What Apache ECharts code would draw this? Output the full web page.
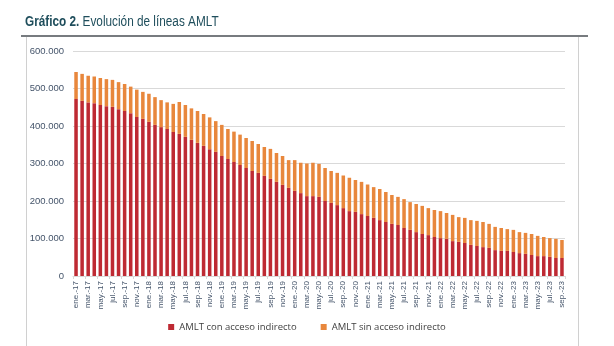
<!DOCTYPE html>
<html><head><meta charset="utf-8">
<script src="https://cdn.jsdelivr.net/npm/echarts@6/dist/echarts.min.js"></script>
<style>html,body{margin:0;padding:0;background:#fff}#c{width:614px;height:346px}</style>
</head><body><div id="c"></div>
<script>
const months = ['ene.','feb.','mar.','abr.','may.','jun.','jul.','ago.','sep.','oct.','nov.','dic.'];
const categories = [];
for (let y = 17; y <= 23; y++) for (let m = 0; m < 12; m++) { if (y === 23 && m > 8) break; categories.push(months[m] + '-' + y); }

const conAcceso = [472,467,463,461,456,453,451,445,440,434,424,419,411,403,397,392,384,379,371,363,355,347,338,331,320,312,304,296,288,280,275,267,259,251,243,235,227,221,213,213,211,200,195,189,181,173,171,165,160,155,149,144,139,136,128,123,117,112,109,104,101,99,93,91,88,83,80,77,75,69,67,67,64,61,59,56,53,53,51,48,48].map(v=>v*1000);
const total = [544,539,534,532,528,525,523,517,512,505,497,491,486,477,469,463,459,464,456,447,440,432,423,413,403,392,385,377,368,360,352,344,339,328,320,309,309,302,300,302,299,288,280,275,268,262,256,251,244,237,232,224,216,211,205,197,192,187,181,176,173,168,163,157,155,149,147,144,139,131,128,125,123,117,115,112,107,104,101,99,96].map(v=>v*1000);
const sinAcceso = total.map((t,i)=>t-conAcceso[i]);

const chart = echarts.init(document.getElementById('c'), null, {renderer:'canvas'});
chart.setOption({
  animation:false,
  graphic:[
    {type:'text', left:25, top:14, scaleX:0.76, originX:25,
      style:{ text:'{b|Gráfico 2.} Evolución de líneas AMLT', fill:'#1f4e5c',
        font:'15.5px "Liberation Sans", Arial',
        rich:{ b:{ fontFamily:'Liberation Sans, Arial', fontSize:15.5, fontWeight:'bold', fill:'#1f4e5c' } } } },
    {type:'line', shape:{x1:21,y1:36,x2:588,y2:36}, style:{stroke:'#4a4f55', lineWidth:1.5}},
    {type:'line', shape:{x1:26.5,y1:37,x2:26.5,y2:346}, style:{stroke:'#d0d0d0', lineWidth:1}},
    {type:'line', shape:{x1:578.5,y1:37,x2:578.5,y2:346}, style:{stroke:'#d0d0d0', lineWidth:1}}
  ],
  grid:{ left:73, right:49, top:51, bottom:70, containLabel:false },
  legend:{ bottom:9, left:'center', itemWidth:6, itemHeight:6, itemGap:24, icon:'rect',
    textStyle:{ fontFamily:'Open Sans, Liberation Sans', fontSize:9.5, color:'#404040' } },
  xAxis:{ type:'category', data:categories,
    axisLine:{ lineStyle:{ color:'#d9d9d9' } },
    axisTick:{ show:true, interval:1, length:3, lineStyle:{ color:'#d9d9d9' } },
    axisLabel:{ interval:1, rotate:90, fontSize:8, color:'#44546a', fontFamily:'Liberation Sans, Arial', margin:5 } },
  yAxis:{ type:'value', min:0, max:600000, interval:100000,
    axisLine:{ show:false }, axisTick:{ show:false },
    splitLine:{ lineStyle:{ color:'#d9d9d9' } },
    axisLabel:{ fontSize:9.5, color:'#44546a', fontFamily:'Liberation Sans, Arial', margin:9,
      formatter:v=>v===0?'0':v.toString().replace(/\B(?=(\d{3})+(?!\d))/g,'.') } },
  series:[
    { name:'AMLT con acceso indirecto', type:'bar', stack:'a', data:conAcceso, barWidth:'58%', itemStyle:{ color:'#be2a33' } },
    { name:'AMLT sin acceso indirecto', type:'bar', stack:'a', data:sinAcceso, barWidth:'58%', itemStyle:{ color:'#e8873c' } }
  ]
});
</script></body></html>
